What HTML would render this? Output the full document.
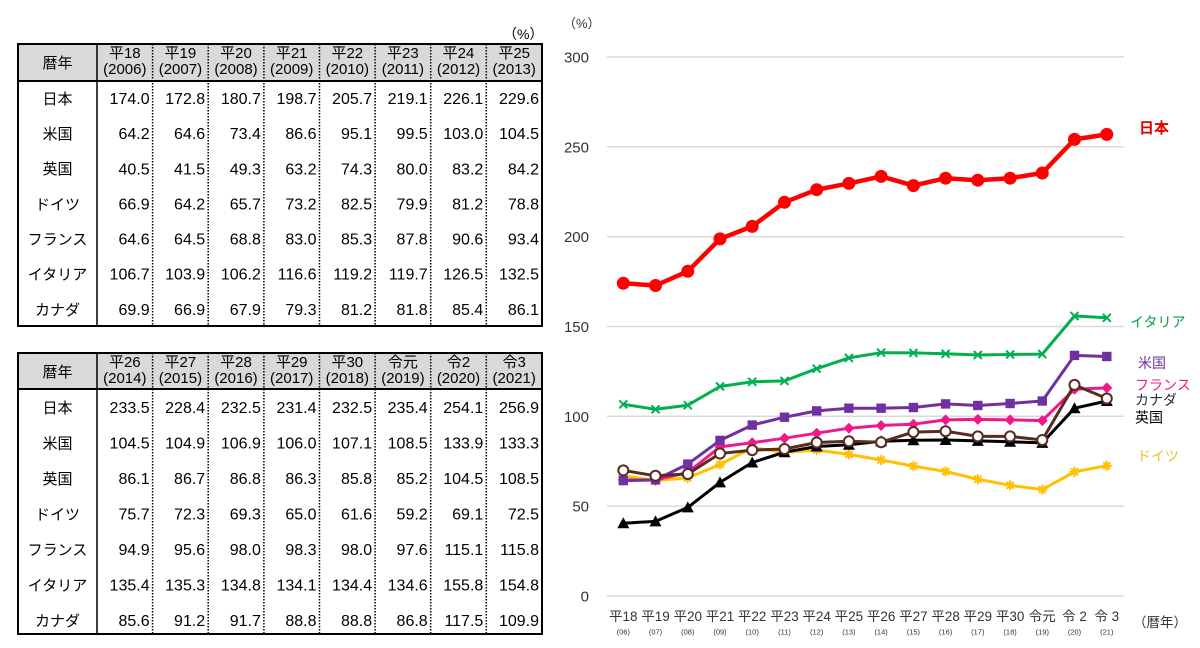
<!DOCTYPE html>
<html><head><meta charset="utf-8">
<style>
html,body{margin:0;padding:0;background:#fff;}
svg{display:block;}
text{font-family:"Liberation Sans","Noto Sans CJK JP",sans-serif;}
</style></head>
<body>
<svg width="1200" height="648" viewBox="0 0 1200 648" xmlns="http://www.w3.org/2000/svg">
<defs>
<marker id="mJ" markerUnits="userSpaceOnUse" markerWidth="20" markerHeight="20" refX="10" refY="10"><circle cx="10" cy="10" r="6.5" fill="#ff0000"/></marker>
<marker id="mU" markerUnits="userSpaceOnUse" markerWidth="20" markerHeight="20" refX="10" refY="10"><rect x="5.3" y="5.3" width="9.4" height="9.4" fill="#7030a0"/></marker>
<marker id="mF" markerUnits="userSpaceOnUse" markerWidth="20" markerHeight="20" refX="10" refY="10"><polygon points="10,4.5 15.5,10 10,15.5 4.5,10" fill="#f0198a"/></marker>
<marker id="mC" markerUnits="userSpaceOnUse" markerWidth="20" markerHeight="20" refX="10" refY="10"><circle cx="10" cy="10" r="5" fill="#fff" stroke="#5a2b20" stroke-width="2"/></marker>
<marker id="mK" markerUnits="userSpaceOnUse" markerWidth="20" markerHeight="20" refX="10" refY="10"><polygon points="10,4 16,15 4,15" fill="#000"/></marker>
<marker id="mI" markerUnits="userSpaceOnUse" markerWidth="20" markerHeight="20" refX="10" refY="10"><path d="M6,6L14,14M14,6L6,14" stroke="#00b050" stroke-width="2"/></marker>
<marker id="mG" markerUnits="userSpaceOnUse" markerWidth="20" markerHeight="20" refX="10" refY="10"><path d="M5,10H15M10,5V15M6.5,6.5L13.5,13.5M13.5,6.5L6.5,13.5" stroke="#ffc000" stroke-width="2"/></marker>
</defs>

<!-- ===== TABLE 1 ===== -->
<text x="503" y="39" font-size="14">（%）</text>
<rect x="18" y="44" width="524" height="37" fill="#d9d9d9"/>
<g stroke="#000" stroke-width="1.5" stroke-dasharray="1.5,1.5">
<line x1="152.6" y1="44" x2="152.6" y2="326"/><line x1="208.2" y1="44" x2="208.2" y2="326"/>
<line x1="263.9" y1="44" x2="263.9" y2="326"/><line x1="319.5" y1="44" x2="319.5" y2="326"/>
<line x1="375.1" y1="44" x2="375.1" y2="326"/><line x1="430.7" y1="44" x2="430.7" y2="326"/>
<line x1="486.3" y1="44" x2="486.3" y2="326"/>
</g>
<line x1="97" y1="44" x2="97" y2="326" stroke="#000" stroke-width="1.5"/>
<line x1="18" y1="81" x2="542" y2="81" stroke="#000" stroke-width="2"/>
<rect x="18" y="44" width="524" height="282" fill="none" stroke="#000" stroke-width="2"/>
<text x="57.5" y="68" font-size="15" text-anchor="middle">暦年</text>
<text font-size="15" text-anchor="middle" y="58"><tspan x="124.8">平18</tspan><tspan x="180.4">平19</tspan><tspan x="236">平20</tspan><tspan x="291.7">平21</tspan><tspan x="347.3">平22</tspan><tspan x="402.9">平23</tspan><tspan x="458.5">平24</tspan><tspan x="514.2">平25</tspan></text>
<text font-size="15" text-anchor="middle" y="74"><tspan x="124.8">(2006)</tspan><tspan x="180.4">(2007)</tspan><tspan x="236">(2008)</tspan><tspan x="291.7">(2009)</tspan><tspan x="347.3">(2010)</tspan><tspan x="402.9">(2011)</tspan><tspan x="458.5">(2012)</tspan><tspan x="514.2">(2013)</tspan></text>
<g font-size="15" text-anchor="middle">
<text x="57.5" y="104">日本</text><text x="57.5" y="139">米国</text><text x="57.5" y="174">英国</text><text x="57.5" y="209.5">ドイツ</text><text x="57.5" y="244.5">フランス</text><text x="57.5" y="279.5">イタリア</text><text x="57.5" y="315">カナダ</text>
</g>
<g font-size="16" text-anchor="end">
<text y="104"><tspan x="149.6">174.0</tspan><tspan x="205.2">172.8</tspan><tspan x="260.9">180.7</tspan><tspan x="316.5">198.7</tspan><tspan x="372.1">205.7</tspan><tspan x="427.7">219.1</tspan><tspan x="483.3">226.1</tspan><tspan x="539">229.6</tspan></text>
<text y="139"><tspan x="149.6">64.2</tspan><tspan x="205.2">64.6</tspan><tspan x="260.9">73.4</tspan><tspan x="316.5">86.6</tspan><tspan x="372.1">95.1</tspan><tspan x="427.7">99.5</tspan><tspan x="483.3">103.0</tspan><tspan x="539">104.5</tspan></text>
<text y="174.5"><tspan x="149.6">40.5</tspan><tspan x="205.2">41.5</tspan><tspan x="260.9">49.3</tspan><tspan x="316.5">63.2</tspan><tspan x="372.1">74.3</tspan><tspan x="427.7">80.0</tspan><tspan x="483.3">83.2</tspan><tspan x="539">84.2</tspan></text>
<text y="209.5"><tspan x="149.6">66.9</tspan><tspan x="205.2">64.2</tspan><tspan x="260.9">65.7</tspan><tspan x="316.5">73.2</tspan><tspan x="372.1">82.5</tspan><tspan x="427.7">79.9</tspan><tspan x="483.3">81.2</tspan><tspan x="539">78.8</tspan></text>
<text y="244.5"><tspan x="149.6">64.6</tspan><tspan x="205.2">64.5</tspan><tspan x="260.9">68.8</tspan><tspan x="316.5">83.0</tspan><tspan x="372.1">85.3</tspan><tspan x="427.7">87.8</tspan><tspan x="483.3">90.6</tspan><tspan x="539">93.4</tspan></text>
<text y="279.5"><tspan x="149.6">106.7</tspan><tspan x="205.2">103.9</tspan><tspan x="260.9">106.2</tspan><tspan x="316.5">116.6</tspan><tspan x="372.1">119.2</tspan><tspan x="427.7">119.7</tspan><tspan x="483.3">126.5</tspan><tspan x="539">132.5</tspan></text>
<text y="315"><tspan x="149.6">69.9</tspan><tspan x="205.2">66.9</tspan><tspan x="260.9">67.9</tspan><tspan x="316.5">79.3</tspan><tspan x="372.1">81.2</tspan><tspan x="427.7">81.8</tspan><tspan x="483.3">85.4</tspan><tspan x="539">86.1</tspan></text>
</g>

<!-- ===== TABLE 2 ===== -->
<rect x="18" y="353" width="524" height="36" fill="#d9d9d9"/>
<g stroke="#000" stroke-width="1.5" stroke-dasharray="1.5,1.5">
<line x1="152.6" y1="353" x2="152.6" y2="634"/><line x1="208.2" y1="353" x2="208.2" y2="634"/>
<line x1="263.9" y1="353" x2="263.9" y2="634"/><line x1="319.5" y1="353" x2="319.5" y2="634"/>
<line x1="375.1" y1="353" x2="375.1" y2="634"/><line x1="430.7" y1="353" x2="430.7" y2="634"/>
<line x1="486.3" y1="353" x2="486.3" y2="634"/>
</g>
<line x1="97" y1="353" x2="97" y2="634" stroke="#000" stroke-width="1.5"/>
<line x1="18" y1="389" x2="542" y2="389" stroke="#000" stroke-width="2"/>
<rect x="18" y="353" width="524" height="281" fill="none" stroke="#000" stroke-width="2"/>
<text x="57.5" y="377" font-size="15" text-anchor="middle">暦年</text>
<text font-size="15" text-anchor="middle" y="367"><tspan x="124.8">平26</tspan><tspan x="180.4">平27</tspan><tspan x="236">平28</tspan><tspan x="291.7">平29</tspan><tspan x="347.3">平30</tspan><tspan x="402.9">令元</tspan><tspan x="458.5">令2</tspan><tspan x="514.2">令3</tspan></text>
<text font-size="15" text-anchor="middle" y="383"><tspan x="124.8">(2014)</tspan><tspan x="180.4">(2015)</tspan><tspan x="236">(2016)</tspan><tspan x="291.7">(2017)</tspan><tspan x="347.3">(2018)</tspan><tspan x="402.9">(2019)</tspan><tspan x="458.5">(2020)</tspan><tspan x="514.2">(2021)</tspan></text>
<g font-size="15" text-anchor="middle">
<text x="57.5" y="413">日本</text><text x="57.5" y="448.5">米国</text><text x="57.5" y="484">英国</text><text x="57.5" y="519.5">ドイツ</text><text x="57.5" y="555">フランス</text><text x="57.5" y="590.5">イタリア</text><text x="57.5" y="626">カナダ</text>
</g>
<g font-size="16" text-anchor="end">
<text y="413"><tspan x="149.6">233.5</tspan><tspan x="205.2">228.4</tspan><tspan x="260.9">232.5</tspan><tspan x="316.5">231.4</tspan><tspan x="372.1">232.5</tspan><tspan x="427.7">235.4</tspan><tspan x="483.3">254.1</tspan><tspan x="539">256.9</tspan></text>
<text y="448.5"><tspan x="149.6">104.5</tspan><tspan x="205.2">104.9</tspan><tspan x="260.9">106.9</tspan><tspan x="316.5">106.0</tspan><tspan x="372.1">107.1</tspan><tspan x="427.7">108.5</tspan><tspan x="483.3">133.9</tspan><tspan x="539">133.3</tspan></text>
<text y="484"><tspan x="149.6">86.1</tspan><tspan x="205.2">86.7</tspan><tspan x="260.9">86.8</tspan><tspan x="316.5">86.3</tspan><tspan x="372.1">85.8</tspan><tspan x="427.7">85.2</tspan><tspan x="483.3">104.5</tspan><tspan x="539">108.5</tspan></text>
<text y="519.5"><tspan x="149.6">75.7</tspan><tspan x="205.2">72.3</tspan><tspan x="260.9">69.3</tspan><tspan x="316.5">65.0</tspan><tspan x="372.1">61.6</tspan><tspan x="427.7">59.2</tspan><tspan x="483.3">69.1</tspan><tspan x="539">72.5</tspan></text>
<text y="555"><tspan x="149.6">94.9</tspan><tspan x="205.2">95.6</tspan><tspan x="260.9">98.0</tspan><tspan x="316.5">98.3</tspan><tspan x="372.1">98.0</tspan><tspan x="427.7">97.6</tspan><tspan x="483.3">115.1</tspan><tspan x="539">115.8</tspan></text>
<text y="590.5"><tspan x="149.6">135.4</tspan><tspan x="205.2">135.3</tspan><tspan x="260.9">134.8</tspan><tspan x="316.5">134.1</tspan><tspan x="372.1">134.4</tspan><tspan x="427.7">134.6</tspan><tspan x="483.3">155.8</tspan><tspan x="539">154.8</tspan></text>
<text y="626"><tspan x="149.6">85.6</tspan><tspan x="205.2">91.2</tspan><tspan x="260.9">91.7</tspan><tspan x="316.5">88.8</tspan><tspan x="372.1">88.8</tspan><tspan x="427.7">86.8</tspan><tspan x="483.3">117.5</tspan><tspan x="539">109.9</tspan></text>
</g>

<!-- ===== CHART ===== -->
<text x="563" y="28" font-size="13" fill="#333">（%）</text>
<g stroke="#d9d9d9" stroke-width="1.5">
<line x1="607" y1="57" x2="1124" y2="57"/><line x1="607" y1="146.8" x2="1124" y2="146.8"/>
<line x1="607" y1="236.7" x2="1124" y2="236.7"/><line x1="607" y1="326.5" x2="1124" y2="326.5"/>
<line x1="607" y1="416.3" x2="1124" y2="416.3"/><line x1="607" y1="506.2" x2="1124" y2="506.2"/>
<line x1="607" y1="596" x2="1124" y2="596"/>
</g>
<g font-size="15" fill="#333" text-anchor="end">
<text x="589" y="62.5">300</text><text x="589" y="152.3">250</text><text x="589" y="242.2">200</text><text x="589" y="332">150</text><text x="589" y="421.8">100</text><text x="589" y="511.7">50</text><text x="589" y="601.5">0</text>
</g>
<g font-size="13.5" fill="#333" text-anchor="middle">
<text y="621"><tspan x="623.3">平18</tspan><tspan x="655.5">平19</tspan><tspan x="687.8">平20</tspan><tspan x="720">平21</tspan><tspan x="752.2">平22</tspan><tspan x="784.5">平23</tspan><tspan x="816.7">平24</tspan><tspan x="848.9">平25</tspan><tspan x="881.1">平26</tspan><tspan x="913.4">平27</tspan><tspan x="945.6">平28</tspan><tspan x="977.8">平29</tspan><tspan x="1010.1">平30</tspan><tspan x="1042.3">令元</tspan><tspan x="1074.5">令 2</tspan><tspan x="1106.8">令 3</tspan></text>
</g>
<g font-size="7.5" fill="#333" text-anchor="middle">
<text y="634.5"><tspan x="623.3">(06)</tspan><tspan x="655.5">(07)</tspan><tspan x="687.8">(08)</tspan><tspan x="720">(09)</tspan><tspan x="752.2">(10)</tspan><tspan x="784.5">(11)</tspan><tspan x="816.7">(12)</tspan><tspan x="848.9">(13)</tspan><tspan x="881.1">(14)</tspan><tspan x="913.4">(15)</tspan><tspan x="945.6">(16)</tspan><tspan x="977.8">(17)</tspan><tspan x="1010.1">(18)</tspan><tspan x="1042.3">(19)</tspan><tspan x="1074.5">(20)</tspan><tspan x="1106.8">(21)</tspan></text>
</g>
<text x="1133" y="627" font-size="13.5" fill="#333">（暦年）</text>

<g fill="none" stroke-linejoin="round">
<!-- Germany -->
<polyline stroke="#ffc000" stroke-width="3" marker-start="url(#mG)" marker-mid="url(#mG)" marker-end="url(#mG)" points="623.3,475.8 655.5,480.6 687.8,477.9 720,464.5 752.2,447.7 784.5,452.4 816.7,450.1 848.9,454.4 881.1,460 913.4,466.1 945.6,471.5 977.8,479.2 1010.1,485.3 1042.3,489.6 1074.5,471.8 1106.8,465.7"/>
<!-- UK -->
<polyline stroke="#000" stroke-width="3" marker-start="url(#mK)" marker-mid="url(#mK)" marker-end="url(#mK)" points="623.3,523.2 655.5,521.4 687.8,507.4 720,482.4 752.2,462.5 784.5,452.2 816.7,446.5 848.9,444.7 881.1,441.3 913.4,440.2 945.6,440 977.8,440.9 1010.1,441.8 1042.3,442.9 1074.5,408.2 1106.8,401"/>
<!-- France -->
<polyline stroke="#f0198a" stroke-width="3" marker-start="url(#mF)" marker-mid="url(#mF)" marker-end="url(#mF)" points="623.3,479.9 655.5,480.1 687.8,472.4 720,446.9 752.2,442.7 784.5,438.2 816.7,433.2 848.9,428.2 881.1,425.5 913.4,424.2 945.6,419.9 977.8,419.4 1010.1,419.9 1042.3,420.6 1074.5,389.2 1106.8,387.9"/>
<!-- US -->
<polyline stroke="#7030a0" stroke-width="3" marker-start="url(#mU)" marker-mid="url(#mU)" marker-end="url(#mU)" points="623.3,480.6 655.5,479.9 687.8,464.1 720,440.4 752.2,425.1 784.5,417.2 816.7,410.9 848.9,408.2 881.1,408.2 913.4,407.5 945.6,403.9 977.8,405.5 1010.1,403.5 1042.3,401 1074.5,355.4 1106.8,356.5"/>
<!-- Canada -->
<polyline stroke="#5a2b20" stroke-width="3" marker-start="url(#mC)" marker-mid="url(#mC)" marker-end="url(#mC)" points="623.3,470.4 655.5,475.8 687.8,474 720,453.5 752.2,450.1 784.5,449 816.7,442.5 848.9,441.3 881.1,442.2 913.4,432.1 945.6,431.2 977.8,436.4 1010.1,436.4 1042.3,440 1074.5,384.9 1106.8,398.5"/>
<!-- Italy -->
<polyline stroke="#00b050" stroke-width="3" marker-start="url(#mI)" marker-mid="url(#mI)" marker-end="url(#mI)" points="623.3,404.3 655.5,409.3 687.8,405.2 720,386.5 752.2,381.8 784.5,380.9 816.7,368.7 848.9,357.9 881.1,352.7 913.4,352.9 945.6,353.8 977.8,355 1010.1,354.5 1042.3,354.1 1074.5,316 1106.8,317.8"/>
<!-- Japan -->
<polyline stroke="#ff0000" stroke-width="4.5" marker-start="url(#mJ)" marker-mid="url(#mJ)" marker-end="url(#mJ)" points="623.3,283.3 655.5,285.5 687.8,271.3 720,238.9 752.2,226.4 784.5,202.3 816.7,189.7 848.9,183.4 881.1,176.4 913.4,185.6 945.6,178.2 977.8,180.2 1010.1,178.2 1042.3,173 1074.5,139.4 1106.8,134.4"/>
</g>

<!-- legend labels -->
<text x="1139" y="133" font-size="15" font-weight="bold" fill="#e00000">日本</text>
<text x="1130" y="327" font-size="14" fill="#00a04a">イタリア</text>
<text x="1138" y="368" font-size="14" fill="#7030a0">米国</text>
<text x="1135" y="390" font-size="14" fill="#f0198a">フランス</text>
<text x="1135" y="405" font-size="14" fill="#203040">カナダ</text>
<text x="1135" y="422.5" font-size="14" fill="#000">英国</text>
<text x="1137" y="461" font-size="14" fill="#f0c020">ドイツ</text>
</svg>
</body></html>
